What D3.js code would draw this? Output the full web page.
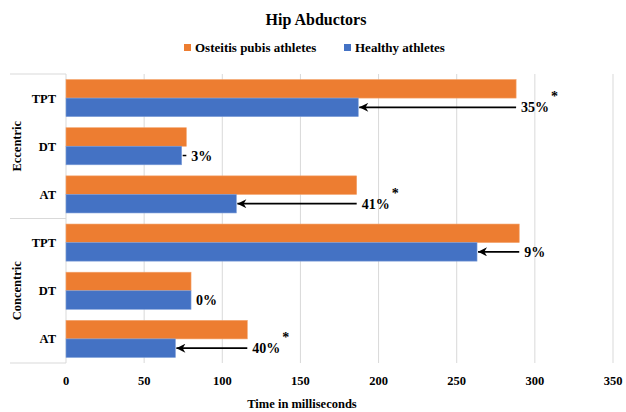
<!DOCTYPE html>
<html><head><meta charset="utf-8">
<script src="https://cdn.jsdelivr.net/npm/d3@7"></script>
<style>
html,body{margin:0;padding:0;background:#fff;}
svg text{font-family:"Liberation Serif","Times New Roman",Times,"DejaVu Serif",serif;font-weight:bold;fill:#000;}
</style></head>
<body><svg id="c" width="626" height="412"></svg>
<script>
const groups = ["Eccentric","Concentric"];
const measures = ["TPT","DT","AT"];
const seriesNames = ["Osteitis pubis athletes","Healthy athletes"];
const colors = ["#ED7D31","#4472C4"];
// rows top to bottom: Eccentric TPT, DT, AT, Concentric TPT, DT, AT
const osteitis = [288, 77, 186, 290, 80, 116];
const healthy  = [187, 74, 109, 263, 80, 70];
const pctLabels = ["35%","3%","41%","9%","0%","40%"];
const significant = [true,false,true,false,false,true];
const xTicks = [0,50,100,150,200,250,300,350];

const svg = d3.select("#c");
const L = 66, R = 613, T = 74, B = 363;
const x = d3.scaleLinear().domain([0,350]).range([L,R]);
const rows = [];
groups.forEach((g,gi)=>measures.forEach((m,mi)=>rows.push({g,m,id:g+"-"+m,i:gi*3+mi})));
const y = d3.scaleBand().domain(rows.map(r=>r.id)).range([T,B]).paddingInner(0.23).paddingOuter(0.115);
const ys = d3.scaleBand().domain([0,1]).range([0,y.bandwidth()]);

svg.append("g").selectAll("line").data(xTicks.slice(1)).join("line")
  .attr("x1",d=>x(d)).attr("x2",d=>x(d)).attr("y1",T).attr("y2",B)
  .attr("stroke","#d9d9d9").attr("stroke-width",1);
svg.append("line").attr("x1",L).attr("x2",L).attr("y1",T).attr("y2",B).attr("stroke","#d9d9d9");
[T, (T+B)/2, B].forEach(v=>svg.append("line").attr("x1",10).attr("x2",L).attr("y1",v).attr("y2",v).attr("stroke","#d9d9d9"));

const series = [osteitis, healthy];
series.forEach((vals,si)=>{
  svg.append("g").selectAll("rect").data(rows).join("rect")
    .attr("x",x(0)).attr("y",d=>y(d.id)+ys(si))
    .attr("width",d=>x(vals[d.i])-x(0)).attr("height",ys.bandwidth())
    .attr("fill",colors[si]).attr("stroke",si===0?"#f4a36c":"#7e9ed8").attr("stroke-width",0.6);
});

svg.append("g").selectAll("text").data(xTicks).join("text")
  .attr("x",d=>x(d)).attr("y",385).attr("text-anchor","middle").attr("font-size",12.5).text(d=>d);
svg.append("text").attr("x",302).attr("y",408).attr("text-anchor","middle").attr("font-size",12.5).text("Time in milliseconds");

svg.append("g").selectAll("text").data(rows).join("text")
  .attr("x",56).attr("y",d=>y(d.id)+y.bandwidth()/2+4.5).attr("text-anchor","end").attr("font-size",12.5).text(d=>d.m);
groups.forEach((g,gi)=>{
  const cy = T + (B-T)/4*(gi*2+1);
  svg.append("text").attr("transform",`translate(21,${cy}) rotate(-90)`).attr("text-anchor","middle").attr("font-size",12.5).text(g);
});

svg.append("defs").append("marker").attr("id","ah").attr("viewBox","0 0 10 10").attr("refX",10).attr("refY",5)
  .attr("markerWidth",6).attr("markerHeight",5).attr("markerUnits","strokeWidth").attr("orient","auto")
  .append("path").attr("d","M10,5 L0,0 L3,5 L0,10 Z").attr("fill","#000");
rows.forEach(d=>{
  const xo = x(osteitis[d.i]), xb = x(healthy[d.i]);
  const cy = y(d.id)+ys(1)+ys.bandwidth()/2;
  if (xo - xb > 6) {
    svg.append("line").attr("x1",xo).attr("x2",xb+1).attr("y1",cy).attr("y2",cy)
      .attr("stroke","#000").attr("stroke-width",1.8).attr("marker-end","url(#ah)");
  } else if (xo - xb > 1) {
    svg.append("line").attr("x1",xo).attr("x2",xb+1).attr("y1",cy).attr("y2",cy).attr("stroke","#000").attr("stroke-width",1.5);
  }
  const lx = Math.max(xo,xb)+5;
  const t = svg.append("text").attr("x",lx).attr("y",cy+5).attr("font-size",14).text(pctLabels[d.i]);
  if (significant[d.i]) {
    const w = t.node().getComputedTextLength();
    svg.append("text").attr("x",lx+w+2).attr("y",cy-6).attr("font-size",14).text("*");
  }
});

svg.append("text").attr("x",316).attr("y",25).attr("text-anchor","middle").attr("font-size",16).text("Hip Abductors");
const leg = [{x:184},{x:344}];
seriesNames.forEach((n,i)=>{
  svg.append("rect").attr("x",leg[i].x).attr("y",44).attr("width",7).attr("height",7).attr("fill",colors[i]);
  svg.append("text").attr("x",leg[i].x+11).attr("y",52).attr("font-size",13).text(n);
});
</script></body></html>
